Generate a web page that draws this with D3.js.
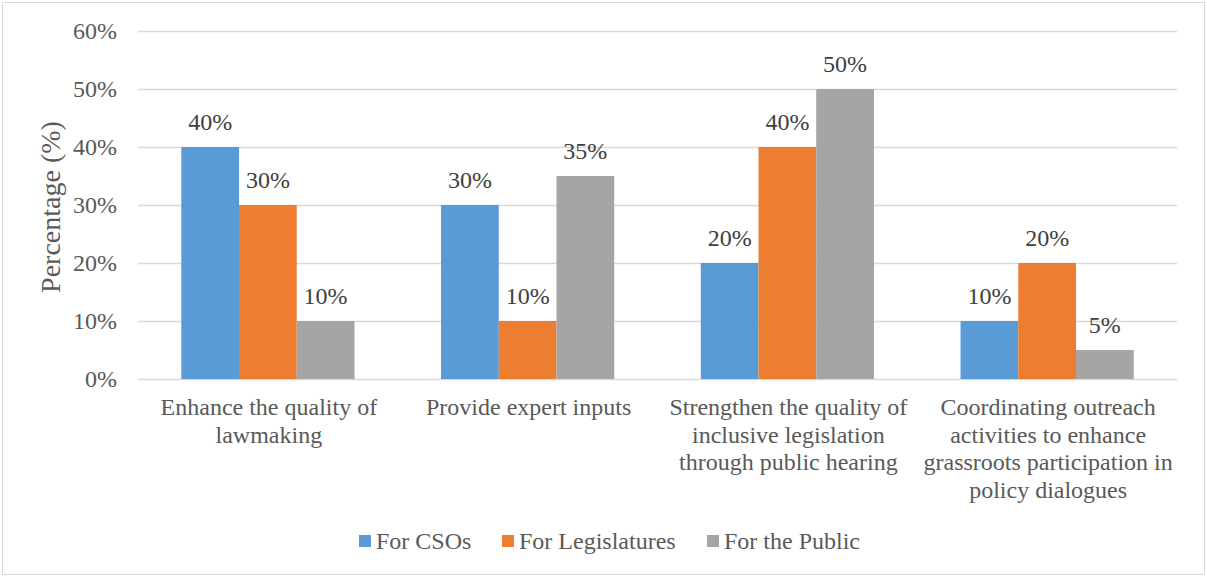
<!DOCTYPE html>
<html>
<head>
<meta charset="utf-8">
<script src="https://cdn.jsdelivr.net/npm/d3@7"></script>
<style>
  body { margin: 0; background: #fff; }
  svg { display: block; font-family: "Liberation Serif", "Times New Roman", serif; }
</style>
</head>
<body>
<svg id="chart" width="1207" height="577"></svg>
<script>
// Survey results: perceived role by stakeholder group
const categories = [
  ["Enhance the quality of", "lawmaking"],
  ["Provide expert inputs"],
  ["Strengthen the quality of", "inclusive legislation", "through public hearing"],
  ["Coordinating outreach", "activities to enhance", "grassroots participation in", "policy dialogues"]
];
const seriesNames = ["For CSOs", "For Legislatures", "For the Public"];
const forCSOs = [40, 30, 20, 10];
const forLegislatures = [30, 10, 40, 20];
const forPublic = [10, 35, 50, 5];
const yTicks = [0, 10, 20, 30, 40, 50, 60];

const series = [forCSOs, forLegislatures, forPublic];
const colors = ["#5b9bd5", "#ed7d31", "#a5a5a5"];
const FONT = "'Liberation Serif', 'Times New Roman', serif";

const svg = d3.select("#chart");
const W = 1207, H = 577;
const margin = { left: 138, right: 30, top: 31, bottom: 198 };
const plotW = W - margin.left - margin.right;
const plotH = H - margin.top - margin.bottom;

// outer frame
svg.append("rect")
  .attr("x", 2.5).attr("y", 2.5)
  .attr("width", W - 5).attr("height", H - 5)
  .attr("fill", "#fff").attr("stroke", "#d9d9d9").attr("stroke-width", 1);

const g = svg.append("g").attr("transform", `translate(${margin.left},${margin.top})`);

const x0 = d3.scaleBand().domain(d3.range(categories.length)).range([0, plotW])
  .paddingInner(0).paddingOuter(0);
const x1 = d3.scaleBand().domain(d3.range(series.length))
  .range([x0.bandwidth() * 1.5 / 9, x0.bandwidth() * (1 - 1.5 / 9)]);
const y = d3.scaleLinear().domain([0, 60]).range([plotH, 0]);

// gridlines
g.append("g").selectAll("line").data(yTicks).join("line")
  .attr("x1", 0).attr("x2", plotW)
  .attr("y1", d => Math.round(y(d)) + 0.5).attr("y2", d => Math.round(y(d)) + 0.5)
  .attr("stroke", "#d9d9d9").attr("stroke-width", 1.5);

// y axis tick labels
const yAxis = d3.axisLeft(y).tickValues(yTicks).tickFormat(d => d + "%").tickSize(0).tickPadding(21);
const ya = g.append("g").call(yAxis);
ya.select(".domain").remove();
ya.selectAll("text")
  .attr("font-family", FONT)
  .attr("font-size", 24).attr("fill", "#595959");

// bars
const catG = g.append("g").selectAll("g").data(categories).join("g")
  .attr("transform", (d, i) => `translate(${x0(i)},0)`);

catG.each(function(c, ci) {
  const cg = d3.select(this);
  series.forEach((s, si) => {
    cg.append("rect")
      .attr("x", x1(si)).attr("width", x1.bandwidth())
      .attr("y", y(s[ci])).attr("height", y(0) - y(s[ci]))
      .attr("fill", colors[si]);
    cg.append("text")
      .attr("x", x1(si) + x1.bandwidth() / 2)
      .attr("y", y(s[ci]) - 17)
      .attr("text-anchor", "middle")
      .attr("font-family", FONT)
      .attr("font-size", 24).attr("fill", "#404040")
      .text(s[ci] + "%");
  });
  // category label
  const t = cg.append("text")
    .attr("text-anchor", "middle")
    .attr("font-family", FONT)
    .attr("font-size", 24).attr("fill", "#595959");
  c.forEach((line, li) => {
    t.append("tspan")
      .attr("x", x0.bandwidth() / 2 + 1)
      .attr("y", plotH + 36 + li * 27.6)
      .text(line);
  });
});

// y axis title
svg.append("text")
  .attr("transform", `translate(60,207) rotate(-90)`)
  .attr("text-anchor", "middle")
  .attr("font-family", FONT)
  .attr("font-size", 28).attr("fill", "#595959")
  .text("Percentage (%)");

// legend
const legendX = [359, 502, 707];
const lg = svg.append("g");
seriesNames.forEach((name, i) => {
  lg.append("rect")
    .attr("x", legendX[i]).attr("y", 535)
    .attr("width", 12).attr("height", 12)
    .attr("fill", colors[i]);
  lg.append("text")
    .attr("x", legendX[i] + 17).attr("y", 548.5)
    .attr("font-family", FONT)
    .attr("font-size", 24).attr("fill", "#595959")
    .text(name);
});
</script>
</body>
</html>
